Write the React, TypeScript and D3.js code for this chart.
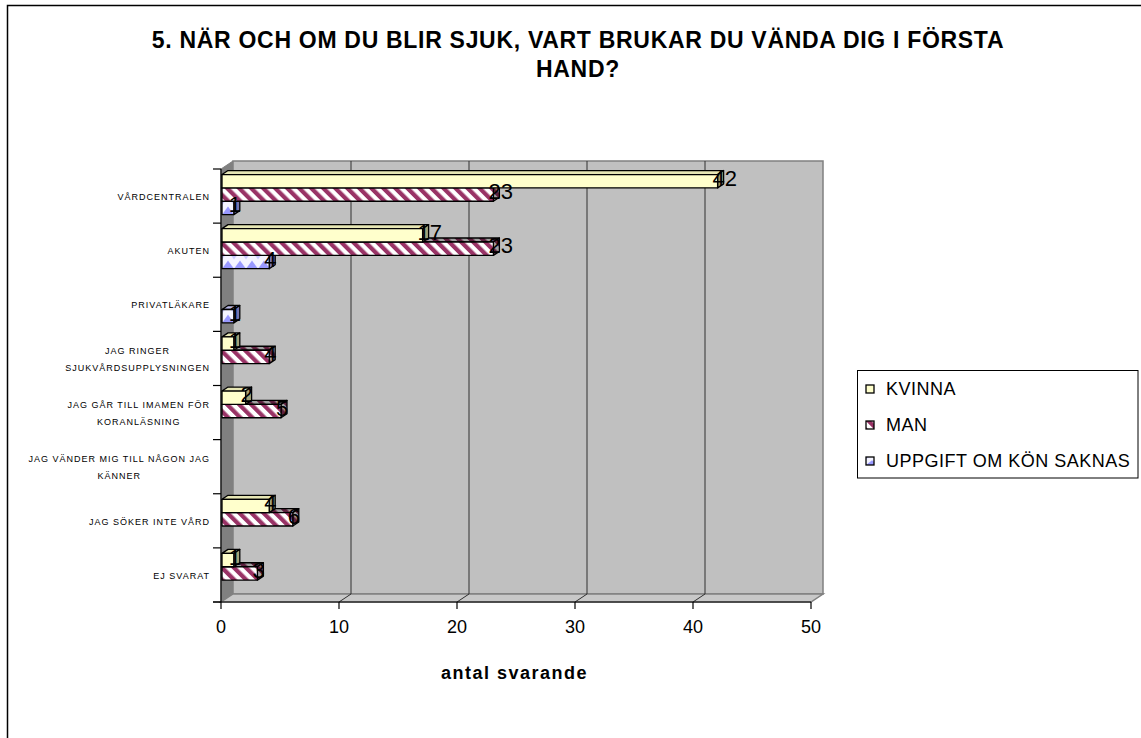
import React, { useEffect, useRef } from 'react';
import * as d3 from 'd3';

const categories: string[][] = [
  ['VÅRDCENTRALEN'],
  ['AKUTEN'],
  ['PRIVATLÄKARE'],
  ['JAG RINGER', 'SJUKVÅRDSUPPLYSNINGEN'],
  ['JAG GÅR TILL IMAMEN FÖR', 'KORANLÄSNING'],
  ['JAG VÄNDER MIG TILL NÅGON JAG', 'KÄNNER'],
  ['JAG SÖKER INTE VÅRD'],
  ['EJ SVARAT'],
];
const seriesNames = ['KVINNA', 'MAN', 'UPPGIFT OM KÖN SAKNAS'];
const kvinna = [42, 17, 0, 1, 2, 0, 4, 1];
const man = [23, 23, 0, 4, 5, 0, 6, 3];
const uppgift = [1, 4, 1, 0, 0, 0, 0, 0];
const xTicks = [0, 10, 20, 30, 40, 50];
const titleLines = ['5. NÄR OCH OM DU BLIR SJUK, VART BRUKAR DU VÄNDA DIG I FÖRSTA', 'HAND?'];
const axisTitle = 'antal svarande';

const FONT = "'Liberation Sans', Arial, sans-serif";

export default function App() {
  const ref = useRef<SVGSVGElement>(null);

  useEffect(() => {
    const svg = d3.select(ref.current);
    svg.selectAll('*').remove();

    const X0 = 221, X1 = 811, Y0 = 169, Y1 = 602;
    const WX = 12, WY = -8;
    const BX = 1, BY = -1.5;
    const DX = 6, DY = -4;

    const x = d3.scaleLinear().domain([0, 50]).range([X0, X1]);
    const y = d3.scaleBand<number>().domain(d3.range(categories.length)).range([Y0, Y1]).paddingInner(0.26).paddingOuter(0.13);
    const ys = d3.scaleBand<number>().domain(d3.range(seriesNames.length)).range([0, y.bandwidth()]).padding(0);
    const step = (Y1 - Y0) / categories.length;

    const defs = svg.append('defs');
    const mp = defs.append('pattern').attr('id', 'manPat').attr('patternUnits', 'userSpaceOnUse')
      .attr('width', 8.5).attr('height', 8.5).attr('patternTransform', 'rotate(-45)');
    mp.append('rect').attr('width', 8.5).attr('height', 8.5).attr('fill', '#ffffff');
    mp.append('rect').attr('width', 4.25).attr('height', 8.5).attr('fill', '#993366');
    const mpd = defs.append('pattern').attr('id', 'manPatDark').attr('patternUnits', 'userSpaceOnUse')
      .attr('width', 8.5).attr('height', 8.5).attr('patternTransform', 'rotate(-45)');
    mpd.append('rect').attr('width', 8.5).attr('height', 8.5).attr('fill', '#a0a0a0');
    mpd.append('rect').attr('width', 4.25).attr('height', 8.5).attr('fill', '#5c1f3d');

    const makeBluePattern = (id: string, px: number, py: number, h: number) => {
      const p = defs.append('pattern').attr('id', id).attr('patternUnits', 'userSpaceOnUse')
        .attr('x', px).attr('y', py).attr('width', 12).attr('height', h);
      p.append('rect').attr('width', 12).attr('height', h).attr('fill', '#f4f4ff');
      p.append('path').attr('d', `M0,${h} L6,${h * 0.4} L12,${h} Z`).attr('fill', '#9999ff');
      p.append('path').attr('d', `M0,0 L3,0 L0,${h * 0.3} Z M12,0 L9,0 L12,${h * 0.3} Z`).attr('fill', '#c8c8ff');
    };

    // chart border
    svg.append('rect').attr('x', 7.5).attr('y', 5.5).attr('width', 1200).attr('height', 800)
      .attr('fill', '#fff').attr('stroke', '#000').attr('stroke-width', 1.5);

    // side wall
    svg.append('path').attr('d', `M${X0},${Y0} L${X0 + WX},${Y0 + WY} L${X0 + WX},${Y1 + WY} L${X0},${Y1} Z`)
      .attr('fill', '#808080').attr('stroke', '#808080');
    // back wall
    svg.append('rect').attr('x', X0 + WX).attr('y', Y0 + WY).attr('width', X1 - X0).attr('height', Y1 - Y0)
      .attr('fill', '#c0c0c0').attr('stroke', '#808080').attr('stroke-width', 1.5);
    // floor
    svg.append('path').attr('d', `M${X0},${Y1} L${X1},${Y1} L${X1 + WX},${Y1 + WY} L${X0 + WX},${Y1 + WY} Z`)
      .attr('fill', '#c8c8c8').attr('stroke', '#808080').attr('stroke-width', 1.5);

    // gridlines
    xTicks.filter(t => t > 0 && t < 50).forEach(t => {
      svg.append('line').attr('x1', x(t) + WX).attr('x2', x(t) + WX).attr('y1', Y0 + WY).attr('y2', Y1 + WY)
        .attr('stroke', '#303030').attr('stroke-width', 1);
      svg.append('line').attr('x1', x(t)).attr('x2', x(t) + WX).attr('y1', Y1).attr('y2', Y1 + WY)
        .attr('stroke', '#303030').attr('stroke-width', 1);
    });

    // axes
    svg.append('line').attr('x1', X0).attr('x2', X0).attr('y1', Y0).attr('y2', Y1).attr('stroke', '#000').attr('stroke-width', 1.2);
    svg.append('line').attr('x1', X0 - 8).attr('x2', X1).attr('y1', Y1).attr('y2', Y1).attr('stroke', '#000').attr('stroke-width', 1.2);
    d3.range(categories.length + 1).forEach(i => {
      const yy = Y0 + i * step;
      svg.append('line').attr('x1', X0 - 8).attr('x2', X0).attr('y1', yy).attr('y2', yy).attr('stroke', '#000').attr('stroke-width', 1.2);
    });
    xTicks.forEach(t => {
      svg.append('line').attr('x1', x(t)).attr('x2', x(t)).attr('y1', Y1).attr('y2', Y1 + 7).attr('stroke', '#000').attr('stroke-width', 1.2);
      svg.append('text').attr('x', x(t)).attr('y', 633).attr('text-anchor', 'middle')
        .attr('font-family', FONT).attr('font-size', 18).attr('fill', '#000').text(String(t));
    });

    // bars
    const seriesVals = [kvinna, man, uppgift];
    const faceFill = [
      { top: '#e6e6b4', side: '#a3a378' },
      { top: 'url(#manPatDark)', side: 'url(#manPatDark)' },
      { top: '#b8b8e8', side: '#7474b0' },
    ];
    const labels: { x: number; y: number; t: string }[] = [];
    for (let ci = categories.length - 1; ci >= 0; ci--) {
      for (let si = seriesNames.length - 1; si >= 0; si--) {
        const v = seriesVals[si][ci];
        if (!v) continue;
        const xl = x(0) + BX, xr = x(v) + BX;
        const yt = (y(ci) as number) + (ys(si) as number) + BY;
        const yb = yt + ys.bandwidth();
        let front = '#ffffcc';
        if (si === 1) front = 'url(#manPat)';
        if (si === 2) {
          const id = `blue-${ci}`;
          makeBluePattern(id, xl, yt, yb - yt);
          front = `url(#${id})`;
        }
        const g = svg.append('g').attr('stroke', '#000').attr('stroke-width', 1.3).attr('stroke-linejoin', 'round');
        g.append('path').attr('d', `M${xl},${yt} L${xl + DX},${yt + DY} L${xr + DX},${yt + DY} L${xr},${yt} Z`).attr('fill', faceFill[si].top);
        g.append('path').attr('d', `M${xr},${yt} L${xr + DX},${yt + DY} L${xr + DX},${yb + DY} L${xr},${yb} Z`).attr('fill', faceFill[si].side);
        g.append('rect').attr('x', xl).attr('y', yt).attr('width', xr - xl).attr('height', yb - yt).attr('fill', front);
        labels.push({ x: xr - 5, y: (yt + yb) / 2 + 4.5, t: String(v) });
      }
    }
    labels.forEach(l => {
      svg.append('text').attr('x', l.x).attr('y', l.y).attr('font-family', FONT).attr('font-size', 22)
        .attr('fill', '#000').text(l.t);
    });

    // category labels
    categories.forEach((lines, ci) => {
      const cy = Y0 + (ci + 0.5) * step + 0.5;
      const lh = 16.7;
      const g = svg.append('g');
      const texts = lines.map((ln, k) =>
        g.append('text').attr('y', cy - ((lines.length - 1) * lh) / 2 + k * lh + 3.3)
          .attr('font-family', FONT).attr('font-size', 9).attr('letter-spacing', 1)
          .attr('fill', '#000').attr('text-anchor', 'middle').text(ln)
      );
      const maxW = d3.max(texts, t => (t.node() as SVGTextElement).getComputedTextLength()) || 0;
      texts.forEach(t => t.attr('x', 210 - maxW / 2));
    });

    // title
    titleLines.forEach((ln, i) => {
      svg.append('text').attr('x', 578).attr('y', 48 + i * 29).attr('text-anchor', 'middle')
        .attr('font-family', FONT).attr('font-size', 23).attr('font-weight', 'bold').attr('letter-spacing', 0.7)
        .attr('fill', '#000').text(ln);
    });

    // axis title
    svg.append('text').attr('x', 514.5).attr('y', 679).attr('text-anchor', 'middle')
      .attr('font-family', FONT).attr('font-size', 18).attr('font-weight', 'bold').attr('letter-spacing', 1.5)
      .attr('fill', '#000').text(axisTitle);

    // legend
    svg.append('rect').attr('x', 857.5).attr('y', 370.5).attr('width', 280.5).attr('height', 107.5)
      .attr('fill', '#fff').attr('stroke', '#000').attr('stroke-width', 1);
    const legFill = ['#ffffcc', 'url(#manPat)', 'url(#blue-leg)'];
    makeBluePattern('blue-leg', 866, 421 + 36, 8);
    seriesNames.forEach((name, i) => {
      const my = 385 + i * 36;
      svg.append('rect').attr('x', 866).attr('y', my).attr('width', 8).attr('height', 8)
        .attr('fill', legFill[i]).attr('stroke', '#000').attr('stroke-width', 1.3);
      svg.append('text').attr('x', 886).attr('y', 394.5 + i * 36).attr('font-family', FONT).attr('font-size', 18)
        .attr('letter-spacing', 0.5).attr('fill', '#000').text(name);
    });
  }, []);

  return (
    <svg ref={ref} width={1141} height={738}
      style={{ position: 'absolute', left: 0, top: 0, background: '#fff' }} />
  );
}
